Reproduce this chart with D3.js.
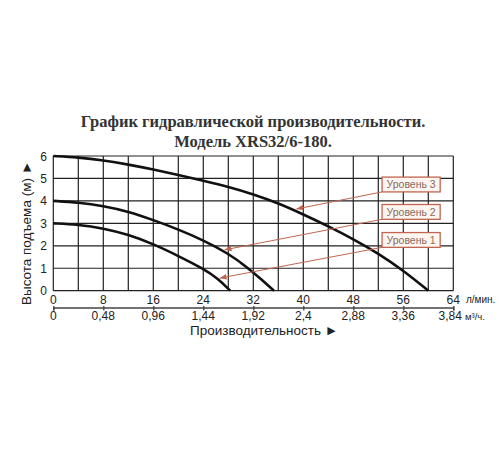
<!DOCTYPE html>
<html>
<head>
<meta charset="utf-8">
<script src="https://d3js.org/d3.v7.min.js"></script>
<style>
  body { margin: 0; background: #fff; }
  svg { display: block; }
  .tick-lbl { font-family: "Liberation Sans", Arial, sans-serif; font-size: 12px; fill: #222; }
  .title { font-family: "Liberation Serif", "Times New Roman", serif; font-weight: bold; font-size: 16.5px; fill: #333; }
</style>
</head>
<body>
<svg id="chart"></svg>
<script>
// flow in l/min and head in m for each level
var level3 = [[0,6],[4,5.94],[8,5.81],[12,5.62],[16,5.4],[20,5.15],[24,4.9],[28,4.63],[32,4.3],[36,3.9],[40,3.4],[44,2.87],[48,2.3],[52,1.66],[56,0.9],[60,0]];
var level2 = [[0,4],[4,3.93],[8,3.78],[12,3.53],[16,3.15],[20,2.73],[24,2.25],[28,1.66],[31,1.05],[33.3,0.5],[35.3,0]];
var level1 = [[0,3],[4,2.94],[8,2.78],[12,2.5],[16,2.08],[20,1.55],[24,0.98],[26.3,0.55],[28.3,0]];
var curves = [level1, level2, level3];

var flowTicks = [0,8,16,24,32,40,48,56,64];
var m3Ticks = [0,0.48,0.96,1.44,1.92,2.4,2.88,3.36,3.84];
var headTicks = [0,1,2,3,4,5,6];
var gridX = d3.range(0, 65, 4);

// callouts: label, arrow tip on the curve [flow, head]
var labels = ["Уровень 3","Уровень 2","Уровень 1"];
var labelTops = [5.06, 3.84, 2.59];
var arrowTips = [[38.9,3.64],[27.4,1.82],[26.6,0.56]];

var width = 500, height = 450;
var svg = d3.select("#chart").attr("width", width).attr("height", height);

var x = d3.scaleLinear().domain([0,64]).range([53.3,453.3]);
var xm = d3.scaleLinear().domain([0,3.84]).range([53.3,453.3]);
var y = d3.scaleLinear().domain([0,6]).range([290.7,156]);

// title
svg.append("text").attr("class","title").attr("x",253).attr("y",127).attr("text-anchor","middle")
  .text("График гидравлической производительности.");
svg.append("text").attr("class","title").attr("x",253).attr("y",147).attr("text-anchor","middle")
  .text("Модель XRS32/6-180.");

// grid
var grid = svg.append("g").attr("stroke","#222").attr("stroke-width",1.2);
grid.selectAll("line.v").data(gridX).enter().append("line")
  .attr("x1",function(d){return x(d);}).attr("x2",function(d){return x(d);})
  .attr("y1",y(0)).attr("y2",y(6));
grid.selectAll("line.h").data(headTicks).enter().append("line")
  .attr("x1",x(0)).attr("x2",x(64))
  .attr("y1",function(d){return y(d);}).attr("y2",function(d){return y(d);});

// head labels
svg.selectAll("text.yl").data(headTicks).enter().append("text")
  .attr("class","tick-lbl").attr("x",47).attr("y",function(d){return y(d)+4.5;})
  .attr("text-anchor","end").text(function(d){return d;});

// flow labels l/min
svg.selectAll("text.xl").data(flowTicks).enter().append("text")
  .attr("class","tick-lbl").attr("x",function(d){return x(d);}).attr("y",304)
  .attr("text-anchor","middle").text(function(d){return d;});
svg.append("text").attr("class","tick-lbl").attr("x",466).attr("y",303)
  .style("font-size","10px").text("л/мин.");

// m3/h axis
var axM = d3.axisBottom(xm).tickValues(m3Ticks).tickSize(3).tickFormat("");
var gM = svg.append("g").attr("transform","translate(0,307.5)").call(axM);
gM.select(".domain").attr("stroke","#444").attr("stroke-width",1.3);
gM.selectAll(".tick line").attr("stroke","#444").attr("stroke-width",1.3).attr("y1",-1.5);
svg.selectAll("text.ml").data(m3Ticks).enter().append("text")
  .attr("class","tick-lbl").attr("x",function(d){return d === 3.84 ? xm(d) - 3 : xm(d);}).attr("y",320)
  .attr("text-anchor","middle").text(function(d){return String(d).replace(".",",");});
svg.append("text").attr("class","tick-lbl").attr("x",465).attr("y",320)
  .style("font-size","9.5px").text("м³/ч.");

// axis titles
svg.append("text").attr("class","tick-lbl").style("font-size","13.5px")
  .attr("x",190).attr("y",335).text("Производительность ►");
svg.append("text").attr("class","tick-lbl").style("font-size","13.5px")
  .attr("transform","translate(31,233) rotate(-90)").attr("text-anchor","middle")
  .text("Высота подъема (м) ►");

// curves
var line = d3.line().x(function(d){return x(d[0]);}).y(function(d){return y(d[1]);})
  .curve(d3.curveBasis);
svg.selectAll("path.curve").data(curves).enter().append("path")
  .attr("d",line).attr("fill","none").attr("stroke","#111").attr("stroke-width",2.6);

// callouts
var red = "#c0654f";
svg.append("defs").append("marker").attr("id","arr")
  .attr("viewBox","0 0 10 10").attr("refX",10).attr("refY",5)
  .attr("markerWidth",7).attr("markerHeight",7).attr("orient","auto-start-reverse")
  .append("path").attr("d","M0,1 L10,5 L0,9 z").attr("fill",red);

var boxX0 = 52.6, boxX1 = 61.9, boxH = 0.66;
labels.forEach(function(lbl, i){
  var top = labelTops[i];
  svg.append("line")
    .attr("x1",x(boxX0)).attr("y1",y(top-boxH))
    .attr("x2",x(arrowTips[i][0])).attr("y2",y(arrowTips[i][1]))
    .attr("stroke",red).attr("stroke-width",1).attr("marker-end","url(#arr)");
  svg.append("rect")
    .attr("x",x(boxX0)).attr("y",y(top))
    .attr("width",x(boxX1)-x(boxX0)).attr("height",y(top-boxH)-y(top))
    .attr("fill","#fdf5f0").attr("stroke",red).attr("stroke-width",1.3);
  svg.append("text").attr("class","tick-lbl")
    .attr("x",(x(boxX0)+x(boxX1))/2).attr("y",y(top-boxH/2)+3.8)
    .attr("text-anchor","middle").style("font-size","10.5px").style("fill","#8a6a60")
    .text(lbl);
});
</script>
</body>
</html>
